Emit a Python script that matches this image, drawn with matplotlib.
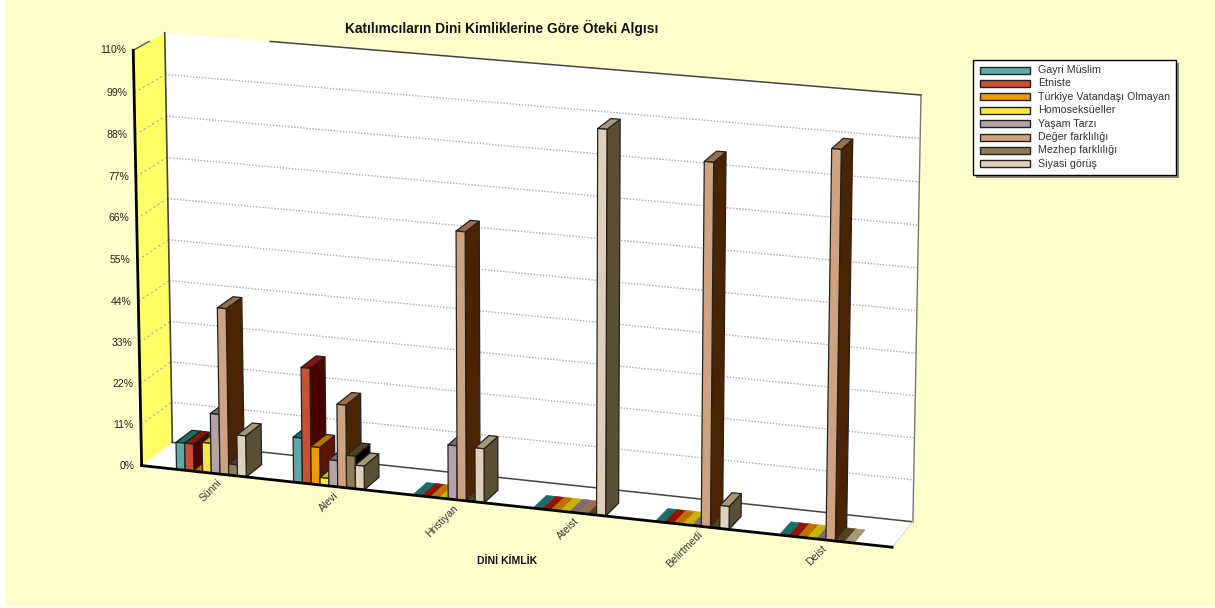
import matplotlib
matplotlib.use("Agg")
import matplotlib.pyplot as plt
import numpy as np
from matplotlib.patches import Polygon, Rectangle

plt.rcParams["font.family"] = ["Liberation Sans", "DejaVu Sans"]

CATEGORIES = ["Sünni", "Alevi", "Hristiyan", "Ateist", "Belirtmedi", "Deist"]
SERIES_NAMES = [
    "Gayri Müslim",
    "Etniste",
    "Türkiye Vatandaşı Olmayan",
    "Homoseksüeller",
    "Yaşam Tarzı",
    "Değer farklılığı",
    "Mezhep farklılığı",
    "Siyasi görüş",
]
GAYRI_MUSLIM = [7.3, 12.0, 0, 0, 0, 0]
ETNISTE = [7.3, 30.8, 0, 0, 0, 0]
TURKIYE = [0, 10.0, 0, 0, 0, 0]
HOMOSEKSUEL = [8.0, 2.0, 0, 0, 0, 0]
YASAM_TARZI = [16.0, 7.0, 14.3, 0, 0, 0]
DEGER = [44.4, 22.0, 70.5, 0, 94.0, 100.0]
MEZHEP = [3.0, 8.7, 0, 0, 0, 0]
SIYASI = [11.0, 6.3, 14.3, 100.0, 6.0, 0]
VALUES = [GAYRI_MUSLIM, ETNISTE, TURKIYE, HOMOSEKSUEL, YASAM_TARZI, DEGER, MEZHEP, SIYASI]
Y_TICKS = [0, 11, 22, 33, 44, 55, 66, 77, 88, 99, 110]

# front, top and side shade of each series
FRONT = ["#5fa8a8", "#c95030", "#ee9a05", "#f8e83c", "#b5a1a8", "#cfa37f", "#8f7b57", "#e0d0b8"]
TOP = ["#1c6e6e", "#8e1408", "#c07000", "#c8b400", "#7d6b72", "#9a6e4b", "#50431f", "#a89878"]
SIDE = ["#0f5050", "#4a0000", "#5e1500", "#5a4a00", "#40303a", "#4a2400", "#000000", "#5a4e34"]

BG = "#ffffcc"
GROUP_WIDTH = 0.578
GROUP_STEP = 0.968
BAR_DEPTH = 0.52

# chart corners (x, y, z) and where they sit in the picture, used to fit the view
CORNERS_3D = [(0, 0, 0), (0, 110, 0), (0, 0, 1), (0, 110, 1), (6, 0, 1), (6, 110, 1), (6, 0, 0)]
CORNERS_PX = [(142, 466), (133, 50), (172, 442), (165, 33), (913, 522), (921, 95), (892, 547)]


def fit_view():
    rows = []
    for (x, y, z), (u, v) in zip(CORNERS_3D, CORNERS_PX):
        p = [x, y / 10, z, 1]
        u, v = u / 100, v / 100
        rows.append(p + [0, 0, 0, 0] + [-u * c for c in p])
        rows.append([0, 0, 0, 0] + p + [-v * c for c in p])
    _, _, vt = np.linalg.svd(np.array(rows, dtype=float))
    return vt[-1].reshape(3, 4)


VIEW = fit_view()


def project(x, y, z):
    u, v, w = VIEW @ np.array([x, y / 10, z, 1.0])
    return 100 * u / w, 100 * v / w


def group_center(idx):
    return 3 + (idx - 2.5) * GROUP_STEP


def face(ax, points, color, edge="#222222", lw=0.9, zorder=3):
    ax.add_patch(Polygon([project(*p) for p in points], closed=True, facecolor=color,
                         edgecolor=edge, linewidth=lw, joinstyle="round", zorder=zorder))


def edge_line(ax, a, b, **kwargs):
    pa, pb = project(*a), project(*b)
    ax.plot([pa[0], pb[0]], [pa[1], pb[1]], **kwargs)


def draw_walls(ax):
    face(ax, [(0, 0, 1), (6, 0, 1), (6, 110, 1), (0, 110, 1)], "white", edge="none", zorder=1)
    face(ax, [(0, 0, 0), (6, 0, 0), (6, 0, 1), (0, 0, 1)], "white", edge="none", zorder=1)
    face(ax, [(0, 0, 0), (0, 0, 1), (0, 110, 1), (0, 110, 0)], "#ffff66", edge="none", zorder=1)

    for tick in Y_TICKS[1:-1]:
        edge_line(ax, (0, tick, 1), (6, tick, 1), color="#aaaaaa", lw=1.0, ls=(0, (1, 1.2)), zorder=2)
        edge_line(ax, (0, tick, 0), (0, tick, 1), color="#b4b4a0", lw=0.9, ls=(0, (2, 2)), zorder=2)

    edge_line(ax, (0, 0, 1), (6, 0, 1), color="#444444", lw=1.1, zorder=2)
    edge_line(ax, (0, 0, 1), (0, 110, 1), color="#444444", lw=1.2, zorder=2)
    edge_line(ax, (6, 0, 1), (6, 110, 1), color="#777777", lw=1.0, zorder=2)
    edge_line(ax, (0.87, 110, 1), (6, 110, 1), color="#444444", lw=1.1, zorder=2)
    edge_line(ax, (0, 110, 0), (0, 110, 0.5), color="#555555", lw=1.0, zorder=2)
    edge_line(ax, (6, 0, 0), (6, 0, 1), color="#dddddd", lw=0.8, zorder=2)


def draw_bars(ax):
    bar_width = GROUP_WIDTH / len(VALUES)
    zorder = 3
    for cat_idx in range(len(CATEGORIES)):
        left = group_center(cat_idx) - GROUP_WIDTH / 2
        for series_idx, series in enumerate(VALUES):
            x0 = left + series_idx * bar_width
            x1 = x0 + bar_width
            h = series[cat_idx]
            if h == 0:
                face(ax, [(x0, 0, 0), (x1, 0, 0), (x1, 0, BAR_DEPTH), (x0, 0, BAR_DEPTH)],
                     TOP[series_idx], edge=TOP[series_idx], lw=0.4, zorder=zorder)
            else:
                face(ax, [(x1, 0, 0), (x1, 0, BAR_DEPTH), (x1, h, BAR_DEPTH), (x1, h, 0)],
                     SIDE[series_idx], zorder=zorder)
                face(ax, [(x0, h, 0), (x1, h, 0), (x1, h, BAR_DEPTH), (x0, h, BAR_DEPTH)],
                     TOP[series_idx], zorder=zorder)
                face(ax, [(x0, 0, 0), (x1, 0, 0), (x1, h, 0), (x0, h, 0)],
                     FRONT[series_idx], zorder=zorder)
            zorder += 0.01


def draw_axes(ax):
    edge_line(ax, (0, 0, 0), (0, 110, 0), color="black", lw=2.0, zorder=6)
    edge_line(ax, (0, 0, 0), (6, 0, 0), color="black", lw=2.0, zorder=6)
    for tick in Y_TICKS:
        px, py = project(0, tick, 0)
        ax.text(px - 7, py, f"{tick}%", ha="right", va="center", fontsize=7.5, color="#222222")
    for idx, name in enumerate(CATEGORIES):
        px, py = project(group_center(idx), 0, 0)
        ax.text(px + 5, py + 4, name, rotation=45, ha="right", va="top",
                rotation_mode="anchor", fontsize=7.5, color="#333333")
    ax.text(507, 561, "DİNİ KİMLİK", ha="center", va="center", fontsize=7.5,
            fontweight="bold", color="#111111")
    ax.text(502, 28, "Katılımcıların Dini Kimliklerine Göre Öteki Algısı", ha="center",
            va="center", fontsize=9.9, fontweight="bold", color="#111111")


def draw_legend(ax):
    ax.add_patch(Rectangle((976, 63), 203, 115, facecolor="#555555", edgecolor="none", alpha=0.7, zorder=7))
    ax.add_patch(Rectangle((973, 60), 203, 115, facecolor="white", edgecolor="black", lw=1.0, zorder=8))
    for idx, name in enumerate(SERIES_NAMES):
        y = 70 + idx * 13.4
        ax.add_patch(Rectangle((979.5, y - 3.5), 50.5, 7, facecolor=FRONT[idx], edgecolor="#222222",
                               lw=1.0, zorder=9))
        ax.text(1038, y, name, ha="left", va="center", fontsize=7.7, color="#333333", zorder=9)


def main():
    fig = plt.figure(figsize=(12.15, 6.08), dpi=100, facecolor=BG)
    ax = fig.add_axes([0, 0, 1, 1])
    ax.set_xlim(0, 1215)
    ax.set_ylim(608, 0)
    ax.axis("off")

    # the picture has a thin white margin at the left and bottom
    ax.add_patch(Rectangle((0, 0), 5, 608, facecolor="white", edgecolor="none", zorder=0))
    ax.add_patch(Rectangle((0, 606), 1215, 2, facecolor="white", edgecolor="none", zorder=0))

    draw_walls(ax)
    draw_bars(ax)
    draw_axes(ax)
    draw_legend(ax)

    fig.savefig("out.png", dpi=100, facecolor=BG)
    plt.close(fig)


if __name__ == "__main__":
    main()
